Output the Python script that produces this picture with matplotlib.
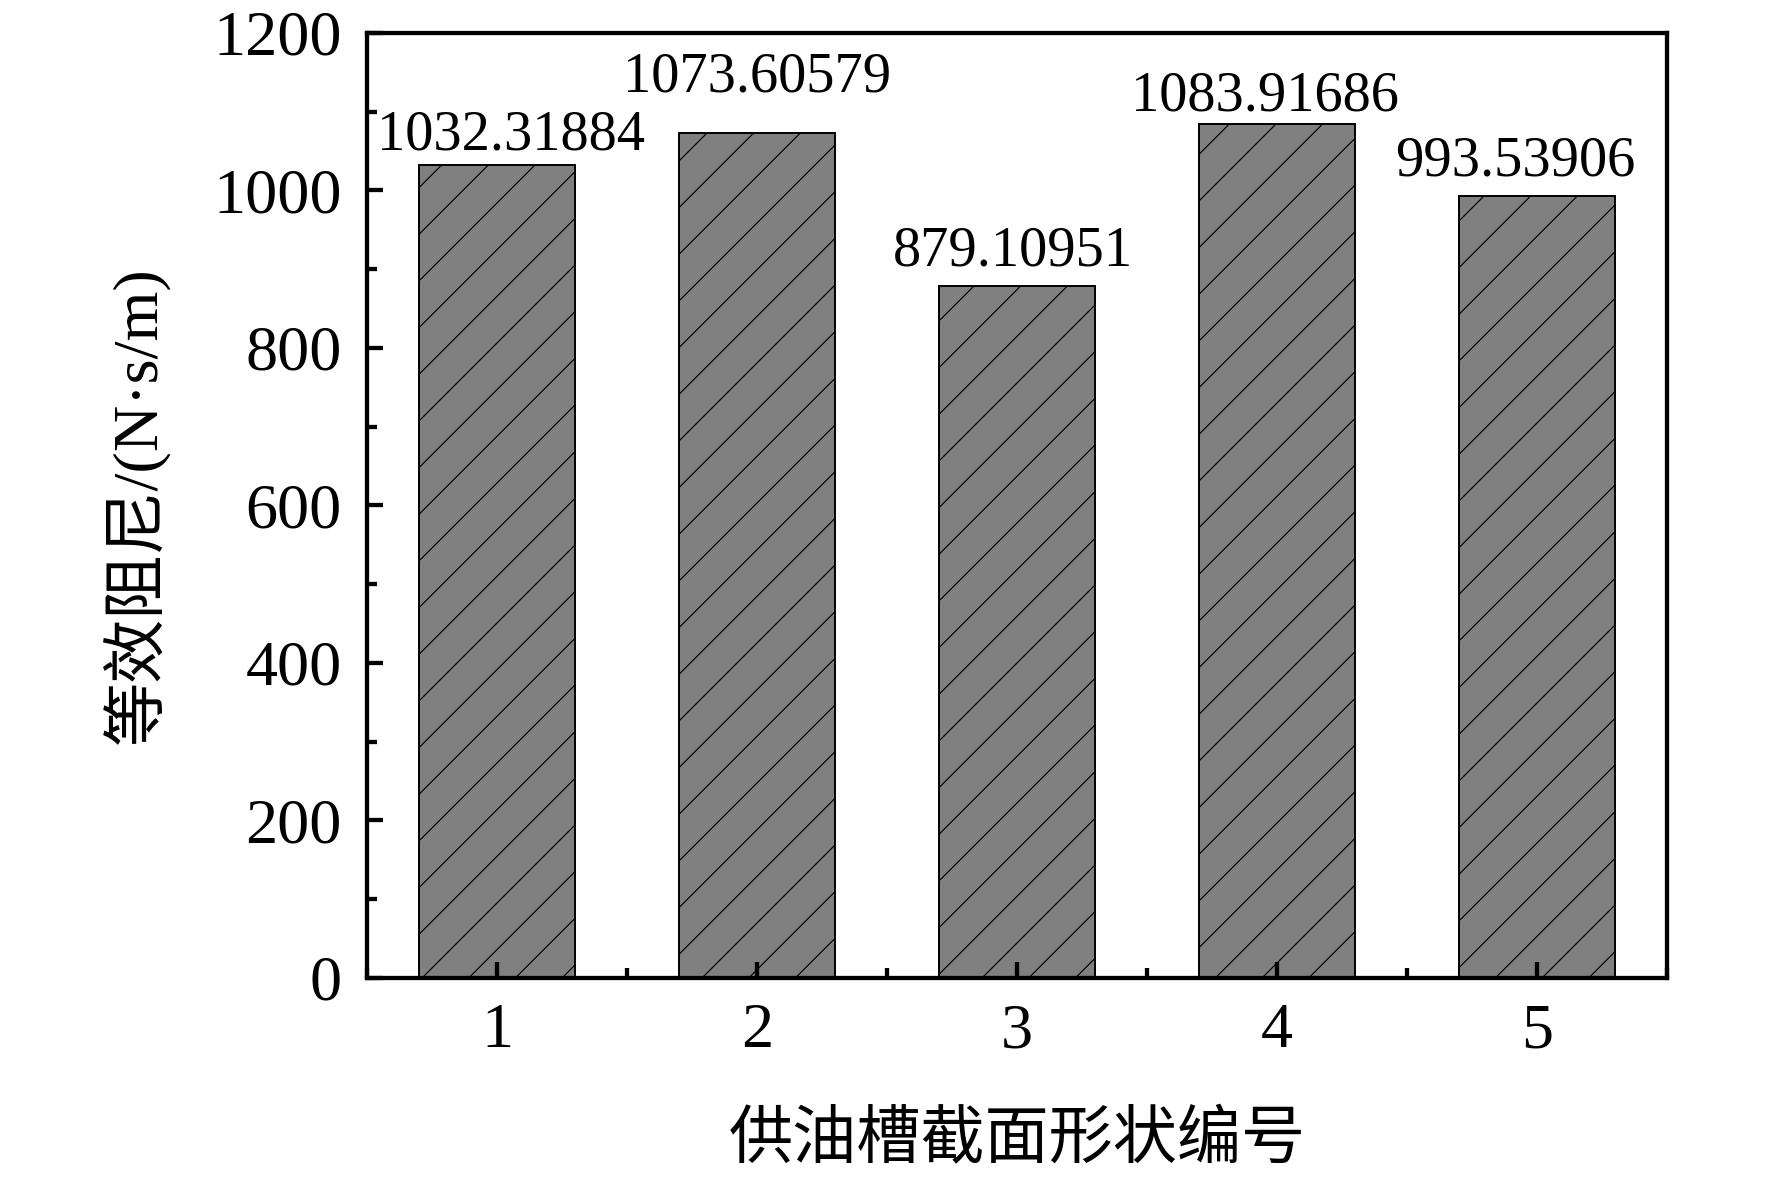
import matplotlib
matplotlib.use('Agg')
import matplotlib.pyplot as plt
from matplotlib.ticker import MultipleLocator

shapes = [1, 2, 3, 4, 5]
damping = [1032.31884, 1073.60579, 879.10951, 1083.91686, 993.53906]
value_text = ['1032.31884', '1073.60579', '879.10951', '1083.91686', '993.53906']
# small nudges (points) for value labels, as in the original figure
label_dx = [7, 0, -2, -6, -11]
label_dy = [2, 15, 4, 1, 4]

fonts = ['Liberation Serif', 'Noto Sans CJK SC']
plt.rcParams['font.family'] = fonts
plt.rcParams['hatch.linewidth'] = 0.6

fig = plt.figure(figsize=(1772 / 140, 1178 / 140), dpi=140)
ax = fig.add_axes([0.2071, 0.1698, 0.9407 - 0.2071, 0.972 - 0.1698])

ax.bar(shapes, damping, width=0.6, color='#808080', edgecolor='black',
       linewidth=1.0, hatch='/')

for x, y, s, dx, dy in zip(shapes, damping, value_text, label_dx, label_dy):
    ax.annotate(s, (x, y), xytext=(dx, dy), textcoords='offset points',
                ha='center', va='bottom', fontsize=29)

ax.set_xlim(0.5, 5.5)
ax.set_ylim(0, 1200)
ax.set_xticks(shapes)
ax.xaxis.set_minor_locator(MultipleLocator(0.5))
ax.yaxis.set_major_locator(MultipleLocator(200))
ax.yaxis.set_minor_locator(MultipleLocator(100))
ax.tick_params(which='both', direction='in', top=False, right=False,
               labelsize=33, width=2.2)
ax.tick_params(which='major', length=8)
ax.tick_params(which='minor', length=5)
ax.tick_params(axis='x', pad=13)
ax.tick_params(axis='y', pad=13)
for sp in ax.spines.values():
    sp.set_linewidth(2.2)

ax.set_xlabel('供油槽截面形状编号', fontsize=33, labelpad=26)
ax.set_ylabel('等效阻尼/(N·s/m)', fontsize=33, labelpad=22)

fig.savefig('out.png', dpi=140)
